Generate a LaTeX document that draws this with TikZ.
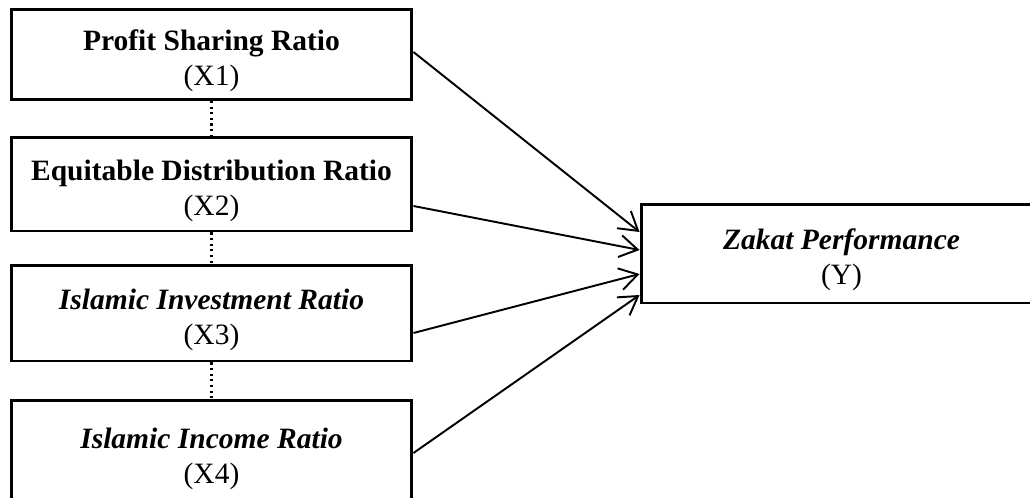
\documentclass[tikz,border=0pt]{standalone}
\usepackage{fontspec}
\setmainfont{Liberation Serif}
\usetikzlibrary{arrows.meta}
\newcommand{\topgap}{\rule{0pt}{0.68cm}}

\begin{document}
\begin{tikzpicture}[x=0.02cm,y=-0.02cm,
  varbox/.style={draw,line width=1.7pt,minimum width=8.02cm,minimum height=1.8cm,
    align=center,font=\fontsize{16.8}{19.9}\selectfont,inner sep=0pt},
  link/.style={line width=1.1pt,-{Straight Barb[length=0.36cm,width=0.44cm,line width=1.1pt]}},
  dots/.style={line width=1.2pt,dotted}]
%\draw[help lines] (0,0) grid (1030,497);
\useasboundingbox (0,0) rectangle (1030,497);
\clip (0,0) rectangle (1030,497);
\node[varbox] (x1) at (211.5,54.5) {\topgap\textbf{Profit Sharing Ratio}\\(X1)};
\node[varbox,minimum height=1.88cm] (x2) at (211.5,184) {\topgap\textbf{Equitable Distribution Ratio}\\(X2)};
\node[varbox,minimum height=1.92cm] (x3) at (211.5,313) {\topgap\textbf{\textit{Islamic Investment Ratio}}\\(X3)};
\node[varbox,minimum height=2.1cm] (x4) at (211.5,452.5) {\topgap\textbf{\textit{Islamic Income Ratio}}\\(X4)};
\node[varbox,minimum height=1.98cm] (y) at (841.5,253.5) {\topgap\textbf{\textit{Zakat Performance}}\\(Y)};
\draw[dots] (x1.south) -- (x2.north);
\draw[dots] (x2.south) -- (x3.north);
\draw[dots] (x3.south) -- (x4.north);
\draw[link] ([yshift=0.05cm]x1.east) -- ([yshift=0.43cm]y.west);
\draw[link] ([yshift=-0.44cm]x2.east) -- ([yshift=0.07cm]y.west);
\draw[link] ([yshift=-0.4cm]x3.east) -- ([yshift=-0.41cm]y.west);
\draw[link] ([yshift=-0.01cm]x4.east) -- ([yshift=-0.83cm]y.west);
\end{tikzpicture}
\end{document}
